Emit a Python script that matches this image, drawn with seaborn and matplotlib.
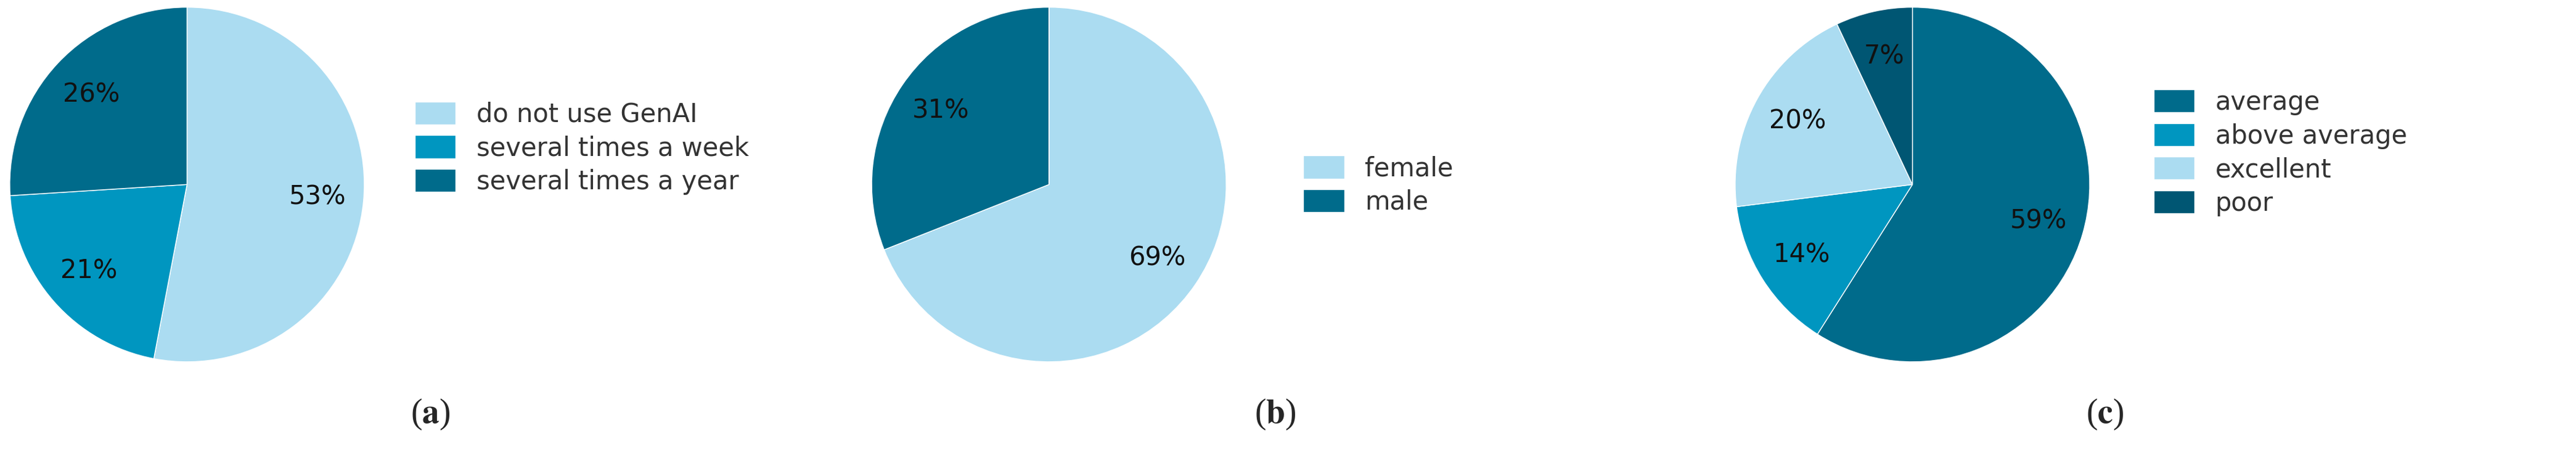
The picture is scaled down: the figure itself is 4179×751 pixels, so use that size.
import matplotlib
matplotlib.use("Agg")
import matplotlib.pyplot as plt
import seaborn as sns

sns.set_theme(style="white")
plt.rcParams['font.family'] = ['DejaVu Sans']
plt.rcParams['mathtext.fontset'] = 'stix'

light = "#abdcf1"
mid = "#0096c0"
dark = "#006b8b"
darkest = "#005673"

use_labels = ["do not use GenAI", "several times a week", "several times a year"]
use_values = [53, 21, 26]
use_colors = [light, mid, dark]

gender_labels = ["female", "male"]
gender_values = [69, 31]
gender_colors = [light, dark]

skill_labels = ["average", "above average", "excellent", "poor"]
skill_values = [59, 14, 20, 7]
skill_colors = [dark, mid, light, darkest]

panels = [
    (use_labels, use_values, use_colors, 0.0031, (0.152, 0.68), "a", 0.167),
    (gender_labels, gender_values, gender_colors, 0.3377, (0.497, 0.60), "b", 0.495),
    (skill_labels, skill_values, skill_colors, 0.6729, (0.827, 0.67), "c", 0.817),
]

fig = plt.figure(figsize=(41.79, 7.51), dpi=100)
for labels, values, colors, left, leg_pos, tag, tag_x in panels:
    ax = fig.add_axes([left, 0.214, 0.139, 0.775])
    wedges, _, autotexts = ax.pie(values, colors=colors, startangle=90, counterclock=False,
                                  autopct='%.0f%%', pctdistance=0.74,
                                  textprops={'fontsize': 30, 'color': '#111111'})
    ax.set_xlim(-1.01, 1.01)
    ax.set_ylim(-1.01, 1.01)
    ax.set_aspect('equal')
    fig.legend(wedges, labels, loc='center left', bbox_to_anchor=leg_pos, frameon=False,
               fontsize=30, labelcolor='#333333', handlelength=1.6, handleheight=1.0,
               labelspacing=0.3)
    fig.text(tag_x, 0.105, r"($\mathbf{%s}$)" % tag, fontsize=40, ha='center', va='center',
             family='Liberation Serif')

fig.savefig("out.png", dpi=100)
